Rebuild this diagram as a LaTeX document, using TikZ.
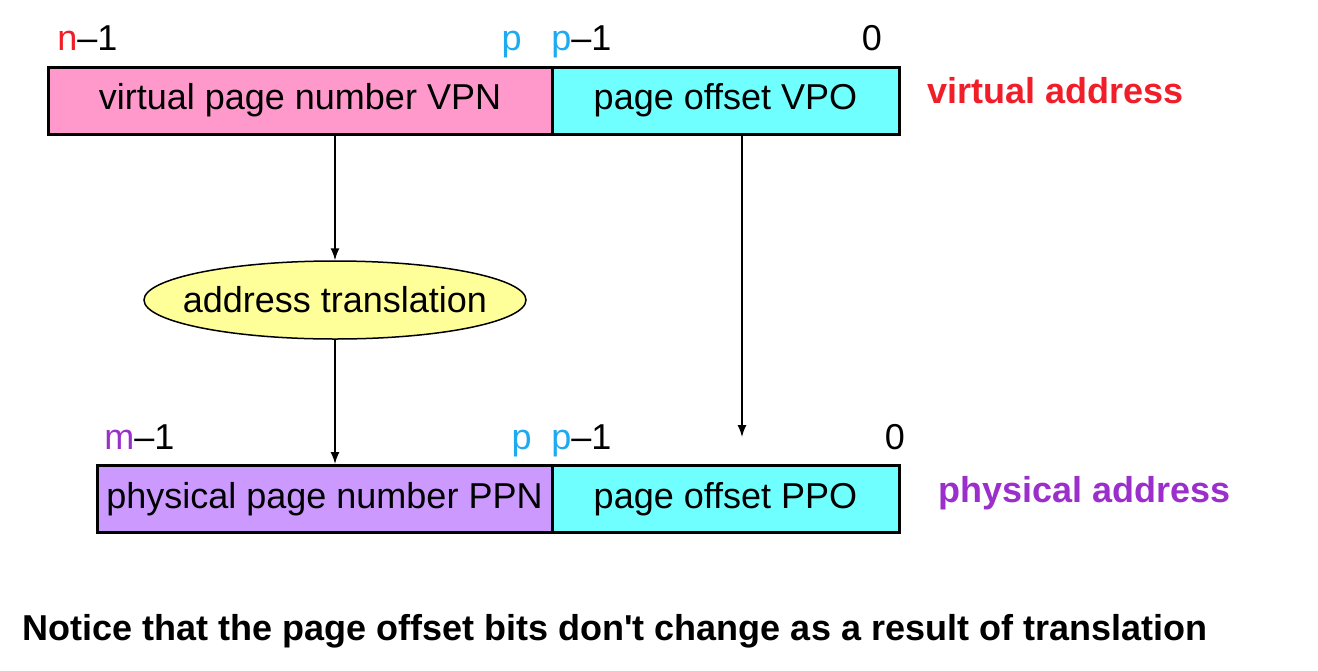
\documentclass[tikz,border=0pt]{standalone}
\usepackage{fontspec}
\setmainfont{Liberation Sans}
\usetikzlibrary{arrows.meta,shapes.geometric}
\definecolor{vpnpink}{HTML}{FF99CC}
\definecolor{offcyan}{HTML}{6FFFFF}
\definecolor{ppnpurple}{HTML}{CC99FF}
\definecolor{ellyellow}{HTML}{FFFF99}
\definecolor{lblred}{HTML}{F01E28}
\definecolor{lblblue}{HTML}{1EAAF0}
\definecolor{lblpurple}{HTML}{9B2FCC}
\tikzset{
  field/.style={draw=black, line width=1.5pt, rectangle, inner sep=0pt, minimum height=33.5pt, font=\fontsize{18pt}{21pt}\selectfont},
  bitlbl/.style={inner sep=0pt, font=\fontsize{18pt}{21pt}\selectfont},
  addrlbl/.style={inner sep=0pt, anchor=base west, font=\fontsize{18pt}{21pt}\selectfont\bfseries},
  arr/.style={line width=0.75pt, -{Latex[length=6pt,width=4.5pt]}}
}
\begin{document}
\begin{tikzpicture}[x=0.5pt,y=-0.5pt]
\useasboundingbox (0,0) rectangle (1318,670);
% virtual address
\node[field, fill=vpnpink, minimum width=252pt] (vpn) at (300,100.5) {virtual page number VPN};
\node[field, fill=offcyan, minimum width=173.5pt] (vpo) at (725.5,100.5) {page offset VPO};
% physical address
\node[field, fill=ppnpurple, minimum width=227.5pt] (ppn) at (324.5,499) {physical page number PPN};
\node[field, fill=offcyan, minimum width=173.5pt] (ppo) at (725.5,499) {page offset PPO};
% bit labels top
\node[bitlbl, anchor=base west] (tn) at (57,50) {\textcolor{lblred}{n}–1};
\node[bitlbl, anchor=base east] (tp) at (522,50) {\textcolor{lblblue}{p}};
\node[bitlbl, anchor=base west] (tp1) at (551,50) {\textcolor{lblblue}{p}–1};
\node[bitlbl, anchor=base] (t0) at (872,50) {0};
% bit labels bottom
\node[bitlbl, anchor=base west] (bm) at (104,449) {\textcolor{lblpurple}{m}–1};
\node[bitlbl, anchor=base east] (bp) at (532,449) {\textcolor{lblblue}{p}};
\node[bitlbl, anchor=base west] (bp1) at (551,449) {\textcolor{lblblue}{p}–1};
\node[bitlbl, anchor=base] (b0) at (895,449) {0};
% address labels
\node[addrlbl, text=lblred] (va) at (927,103) {virtual address};
\node[addrlbl, text=lblpurple] (pa) at (938,502) {physical address};
% translation
\node[ellipse, draw=black, line width=0.75pt, fill=ellyellow, minimum width=191pt, minimum height=39pt, inner sep=0pt] (tr) at (335,300) {};
\node[bitlbl] (trtext) at (tr.center) {address translation};
% arrows
\coordinate (vpoend) at (742,437);
\draw[arr] (tr |- vpn.south) -- (tr.north);
\draw[arr] (tr.south) -- (tr |- ppn.north);
\draw[arr] (vpoend |- vpo.south) -- (vpoend);
% note
\node[addrlbl] (note) at (22,640) {Notice that the page offset bits don\textquotesingle t change as a result of translation};
\end{tikzpicture}
\end{document}
